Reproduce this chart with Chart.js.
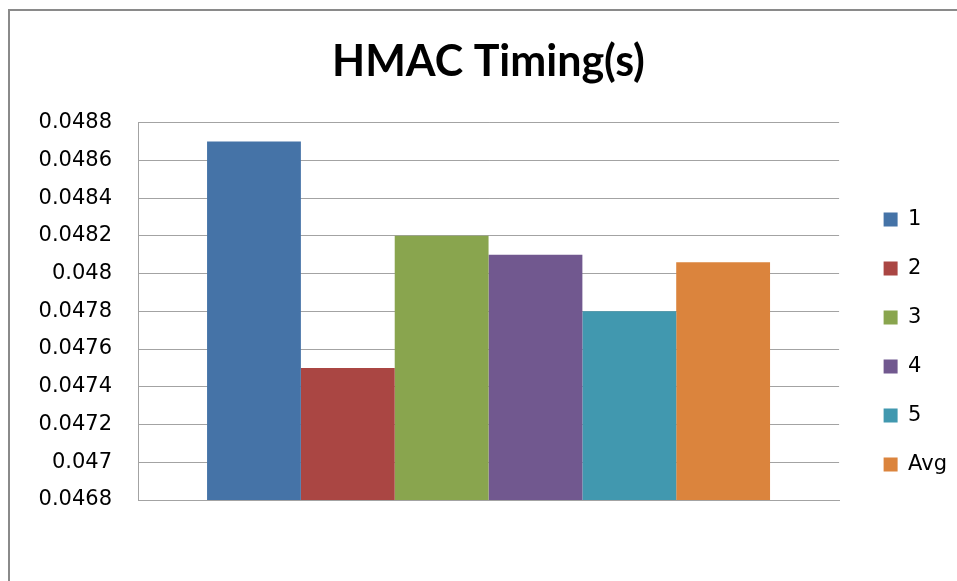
<!DOCTYPE html>
<html>
<head>
<meta charset="utf-8">
<title>HMAC Timing(s)</title>
<script src="https://cdn.jsdelivr.net/npm/chart.js@4.4.0/dist/chart.umd.min.js"></script>
<style>
  html, body { margin: 0; padding: 0; background: #fff; }
  canvas { display: block; }
</style>
</head>
<body>
<canvas id="chart" width="957" height="581"></canvas>
<script>
// One group of bars: five timing runs plus their average (seconds)
const categories = [''];
const seriesNames = ['1', '2', '3', '4', '5', 'Avg'];
const run1 = [0.0487];
const run2 = [0.0475];
const run3 = [0.0482];
const run4 = [0.0481];
const run5 = [0.0478];
const runAvg = [0.04806];
const seriesValues = [run1, run2, run3, run4, run5, runAvg];

// Value axis labels, bottom to top
const yTickLabels = ['0.0468', '0.047', '0.0472', '0.0474', '0.0476', '0.0478',
                     '0.048', '0.0482', '0.0484', '0.0486', '0.0488'];
const yMin = 0.0468;
const yMax = 0.0488;
const yStep = 0.0002;

const seriesColors = ['#4573A7', '#AA4643', '#89A54E', '#71588F', '#4198AF', '#DB843D'];

const GRID = '#A3A3A3';
const TICK_FONT = { family: '"DejaVu Sans", sans-serif', size: 21 };

// Outer chart frame, open on the right and bottom
const framePlugin = {
  id: 'frame',
  beforeDraw(chart) {
    const ctx = chart.ctx;
    ctx.save();
    ctx.fillStyle = '#ffffff';
    ctx.fillRect(0, 0, chart.width, chart.height);
    ctx.strokeStyle = '#8A8A8A';
    ctx.lineWidth = 2;
    ctx.beginPath();
    ctx.moveTo(9, chart.height + 2);
    ctx.lineTo(9, 10);
    ctx.lineTo(chart.width + 2, 10);
    ctx.stroke();
    ctx.restore();
  }
};

const datasets = seriesNames.map((name, i) => ({
  label: name,
  data: seriesValues[i],
  backgroundColor: seriesColors[i],
  borderWidth: 0,
  categoryPercentage: 0.803,
  barPercentage: 1.0
}));

new Chart(document.getElementById('chart'), {
  type: 'bar',
  data: { labels: categories, datasets },
  plugins: [framePlugin],
  options: {
    responsive: false,
    animation: false,
    layout: { padding: { left: 20, right: 0, top: 10, bottom: 78 } },
    plugins: {
      title: {
        display: true,
        text: 'HMAC Timing(s)',
        color: '#000',
        font: { family: 'Lato, sans-serif', weight: 'bold', size: 43 },
        padding: { top: 26, bottom: 35 }
      },
      legend: {
        position: 'right',
        align: 'end',
        labels: {
          boxWidth: 14,
          boxHeight: 14,
          padding: 28,
          color: '#000',
          font: TICK_FONT
        }
      },
      tooltip: { enabled: false }
    },
    scales: {
      x: {
        grid: { display: false },
        ticks: { display: false },
        border: { display: true, color: GRID, width: 1 },
        afterFit(s) { s.height = 3; }
      },
      y: {
        min: yMin,
        max: yMax,
        ticks: {
          stepSize: yStep,
          padding: 26,
          color: '#000',
          font: TICK_FONT,
          callback(value) {
            const hit = yTickLabels.find(t => Math.abs(Number(t) - value) < yStep / 10);
            return hit !== undefined ? hit : '';
          }
        },
        grid: { color: GRID, lineWidth: 1, drawTicks: false },
        border: { display: true, color: GRID, width: 1 },
        afterFit(s) { s.width = 118; }
      },
      gap: {
        type: 'linear',
        position: 'right',
        grid: { display: false },
        ticks: { display: false },
        border: { display: false },
        afterFit(s) { s.width = 16.5; }
      }
    }
  }
});
</script>
</body>
</html>
